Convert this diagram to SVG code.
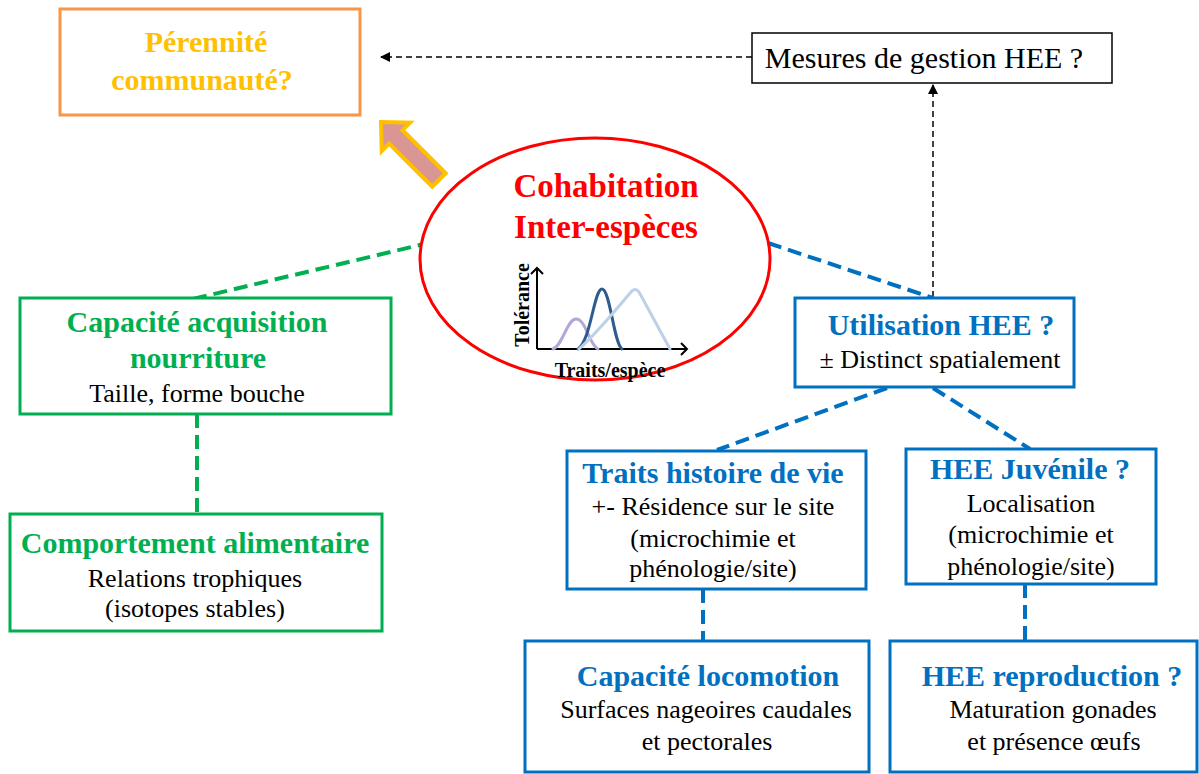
<svg xmlns="http://www.w3.org/2000/svg" width="1199" height="774" viewBox="0 0 1199 774" font-family="'Liberation Serif', serif">
<style>
text{text-anchor:middle}
.nodeTitle{font-weight:bold;font-size:30px}
.nodeSub{font-size:26px;fill:#000}
.txtGreen{fill:#00B050}
.txtBlue{fill:#0070C0}
.boxGreen{fill:#fff;stroke:#00B050;stroke-width:3}
.boxBlue{fill:#fff;stroke:#0070C0;stroke-width:3}
.dashGreen{stroke:#00B050;stroke-width:4;stroke-dasharray:14 7;fill:none}
.dashBlue{stroke:#0070C0;stroke-width:4;stroke-dasharray:14 7;fill:none}
.dashBlack{stroke:#000;stroke-width:1.5;stroke-dasharray:6 4;fill:none}
.curve{fill:none;stroke-width:3;stroke-linecap:round;stroke-linejoin:round}
</style>
<defs>
<marker id="ah" markerWidth="10" markerHeight="10" refX="9" refY="5" orient="auto" markerUnits="userSpaceOnUse">
<path d="M0,0 L10,5 L0,10 Z" fill="#000"/>
</marker>
<marker id="oa" markerWidth="14" markerHeight="14" refX="7" refY="7" orient="auto" markerUnits="userSpaceOnUse">
<path d="M1,1 L7,7 L1,13" fill="none" stroke="#000" stroke-width="2"/>
</marker>
</defs>

<g id="connectors">
<line class="dashBlack" x1="752" y1="57" x2="381" y2="57" marker-end="url(#ah)"/>
<line class="dashBlack" x1="933" y1="297" x2="933" y2="85" marker-end="url(#ah)"/>
<line class="dashGreen" x1="193" y1="299" x2="424" y2="244"/>
<line class="dashGreen" x1="197" y1="414" x2="197" y2="514"/>
<line class="dashBlue" x1="768" y1="243" x2="933" y2="298"/>
<line class="dashBlue" x1="887" y1="388" x2="717" y2="450"/>
<line class="dashBlue" x1="933" y1="388" x2="1030" y2="449"/>
<line class="dashBlue" x1="703" y1="589" x2="703" y2="641"/>
<line class="dashBlue" x1="1025" y1="584" x2="1025" y2="641"/>
<polygon points="0,0 21,-20 21,-9.5 82,-9.5 82,9.5 21,9.5 21,20" transform="translate(381,122) rotate(45)" fill="#D99694" stroke="#FFC000" stroke-width="4" stroke-linejoin="miter"/>
</g>

<g id="perennite" font-family="'Liberation Serif', serif">
<rect x="60" y="9" width="300" height="106" fill="#fff" stroke="#F79646" stroke-width="3"/>
<text class="nodeTitle" x="206" y="52" fill="#FFC000">Pérennité</text>
<text class="nodeTitle" x="202" y="90" fill="#FFC000">communauté?</text>
</g>

<g id="mesures" font-family="'Liberation Serif', serif">
<rect x="752" y="33" width="360" height="50" fill="#fff" stroke="#000" stroke-width="1.5"/>
<text x="924" y="68" font-size="30">Mesures de gestion HEE ?</text>
</g>

<g id="cohabitation" font-family="'Liberation Serif', serif">
<ellipse cx="595" cy="259" rx="175" ry="121" fill="#fff" stroke="#FF0000" stroke-width="3"/>
<text x="606" y="197" fill="#FF0000" font-weight="bold" font-size="33">Cohabitation</text>
<text x="606" y="238" fill="#FF0000" font-weight="bold" font-size="33">Inter-espèces</text>
<line x1="537" y1="349" x2="537" y2="268" stroke="#000" stroke-width="2" marker-end="url(#oa)"/>
<line x1="537" y1="349" x2="687" y2="349" stroke="#000" stroke-width="2" marker-end="url(#oa)"/>
<path class="curve" stroke="#B4A7D6" d="M553,349 C563,345 567,319 576,319 C586,319 589,345 598,349"/>
<path class="curve" stroke="#2F5B8E" d="M578,349 C591,340 594,289 602,289 C610,289 614,344 622,349"/>
<path class="curve" stroke="#BCD0E8" d="M579,349 C598,332 618,307 631,292 Q635,287 639,292 L670,349"/>
<text transform="translate(529,305) rotate(-90)" font-weight="bold" font-size="20">Tolérance</text>
<text x="610" y="377" font-weight="bold" font-size="20">Traits/espèce</text>
</g>

<g id="acquisition" font-family="'Liberation Serif', serif">
<rect class="boxGreen" x="20" y="298" width="371" height="116"/>
<text class="nodeTitle txtGreen" x="197" y="332">Capacité acquisition</text>
<text class="nodeTitle txtGreen" x="198" y="368">nourriture</text>
<text class="nodeSub" x="197" y="402">Taille, forme bouche</text>
</g>

<g id="comportement" font-family="'Liberation Serif', serif">
<rect class="boxGreen" x="10" y="514" width="372" height="117"/>
<text class="nodeTitle txtGreen" x="195" y="553">Comportement alimentaire</text>
<text class="nodeSub" x="195" y="587">Relations trophiques</text>
<text class="nodeSub" x="195" y="617">(isotopes stables)</text>
</g>

<g id="utilisation" font-family="'Liberation Serif', serif">
<rect class="boxBlue" x="795" y="298" width="279" height="89"/>
<text class="nodeTitle txtBlue" x="941" y="335">Utilisation HEE ?</text>
<text class="nodeSub" x="940" y="368">± Distinct spatialement</text>
</g>

<g id="traits" font-family="'Liberation Serif', serif">
<rect class="boxBlue" x="567" y="451" width="299" height="138"/>
<text class="nodeTitle txtBlue" x="713" y="483">Traits histoire de vie</text>
<text class="nodeSub" x="713" y="515">+- Résidence sur le site</text>
<text class="nodeSub" x="713" y="547">(microchimie et</text>
<text class="nodeSub" x="713" y="577">phénologie/site)</text>
</g>

<g id="juvenile" font-family="'Liberation Serif', serif">
<rect class="boxBlue" x="906" y="449" width="250" height="135"/>
<text class="nodeTitle txtBlue" x="1030" y="479">HEE Juvénile ?</text>
<text class="nodeSub" x="1031" y="512">Localisation</text>
<text class="nodeSub" x="1031" y="543">(microchimie et</text>
<text class="nodeSub" x="1031" y="575">phénologie/site)</text>
</g>

<g id="locomotion" font-family="'Liberation Serif', serif">
<rect class="boxBlue" x="525" y="641" width="344" height="131"/>
<text class="nodeTitle txtBlue" x="708" y="686">Capacité locomotion</text>
<text class="nodeSub" x="706" y="718">Surfaces nageoires caudales</text>
<text class="nodeSub" x="707" y="750">et pectorales</text>
</g>

<g id="reproduction" font-family="'Liberation Serif', serif">
<rect class="boxBlue" x="890" y="641" width="307" height="131"/>
<text class="nodeTitle txtBlue" x="1052" y="686">HEE reproduction ?</text>
<text class="nodeSub" x="1053" y="718">Maturation gonades</text>
<text class="nodeSub" x="1054" y="750">et présence œufs</text>
</g>
</svg>
